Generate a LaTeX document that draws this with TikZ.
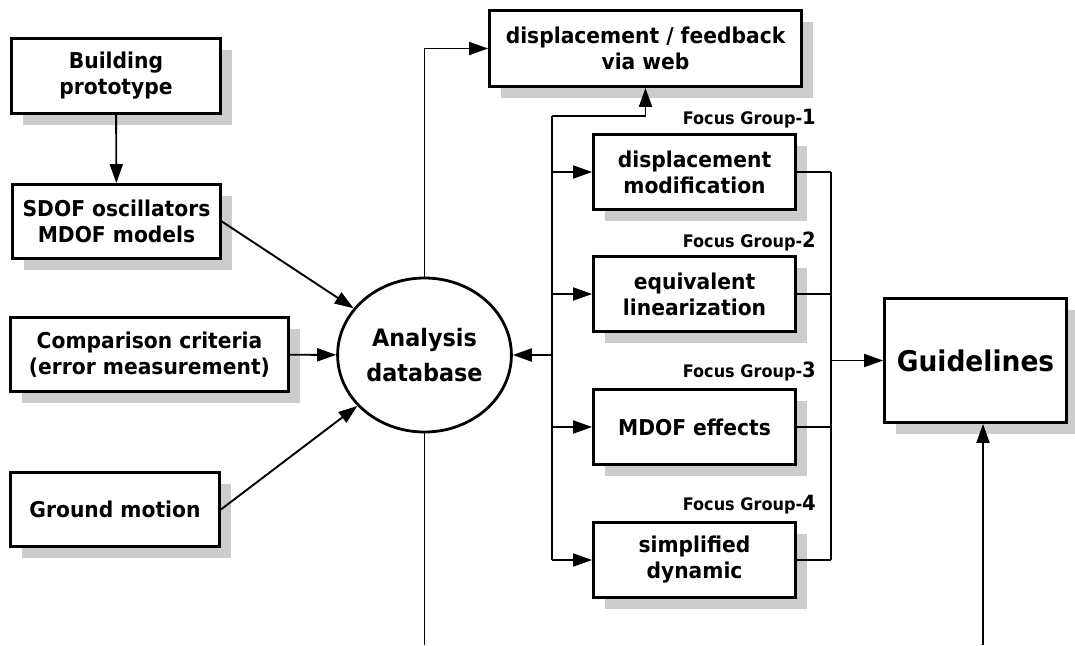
\documentclass[tikz,border=0pt]{standalone}
\usepackage{fontspec}
\setmainfont{DejaVu Sans}
\newfontfamily\flowfont{DejaVu Sans}[FakeStretch=0.93]
\usetikzlibrary{arrows.meta,shadows,shapes.geometric}
\tikzset{
  flow chart/.style={
    x=1pt,
    y=-1pt,
    line join=miter
  },
  flow box/.style={
    draw,
    line width=2.8pt,
    fill=white,
    align=center,
    inner sep=2pt,
    font=\flowfont\bfseries\fontsize{21.8}{26}\selectfont,
    drop shadow={shadow xshift=11pt,shadow yshift=-11pt,fill=black!20,opacity=1}
  },
  flow hub/.style={
    draw,
    ellipse,
    line width=2.8pt,
    minimum width=163pt,
    minimum height=154pt,
    align=center,
    font=\flowfont\bfseries\fontsize{24}{35}\selectfont
  },
  flow link/.style={
    line width=1.9pt
  },
  flow arrow/.style={
    flow link,
    -{Triangle[length=19pt,width=13pt]}
  },
  group label/.style={
    anchor=east,
    inner sep=0pt,
    font=\flowfont\bfseries\fontsize{17.3}{17.3}\selectfont
  }
}

\begin{document}
\begin{tikzpicture}[flow chart]
  \useasboundingbox (0,0) rectangle (1075,645);

  \node[flow box,minimum width=209pt,minimum height=75pt] (proto) at (116,76) {Building\\prototype};
  \node[flow box,minimum width=208pt,minimum height=74pt] (sdof) at (116.5,221.5) {SDOF oscillators\\MDOF models};
  \node[flow box,minimum width=278pt,minimum height=74pt] (crit) at (149.5,354.5) {Comparison criteria\\(error measurement)};
  \node[flow box,minimum width=209pt,minimum height=74pt] (ground) at (115,509.5) {Ground motion};

  \node[flow hub] (db) at (424.5,355) {Analysis\\database};

  \node[flow box,minimum width=312pt,minimum height=76pt] (web) at (645.5,48.5) {displacement / feedback\\via web};
  \node[flow box,minimum width=202pt,minimum height=75pt] (dispmod) at (694.5,172) {displacement\\modification};
  \node[flow box,minimum width=202pt,minimum height=75pt] (eqlin) at (694.5,294) {equivalent\\linearization};
  \node[flow box,minimum width=202pt,minimum height=75pt] (mdof) at (694.5,427) {MDOF effects};
  \node[flow box,minimum width=202pt,minimum height=75pt] (simdyn) at (694.5,560) {simplified\\dynamic};
  \node[flow box,minimum width=182pt,minimum height=124pt,font=\flowfont\bfseries\fontsize{28.5}{32}\selectfont] (guide) at (975.5,360.5) {Guidelines};

  \foreach \k/\y in {1/119,2/242,3/372,4/505}
    \node[group label] (fg\k) at (816,\y) {Focus Group-{\fontsize{21}{21}\selectfont\k}};

  \coordinate (bustop) at (552,116);
  \coordinate (busbot) at (552,560);
  \coordinate (colltop) at (831,172);
  \coordinate (collbot) at (831,560);
  \coordinate (dbdown) at (424.5,645);
  \coordinate (guideup) at (983,645);

  \draw[flow arrow] (proto) -- (sdof);
  \draw[flow arrow] (sdof.east) -- (db);
  \draw[flow arrow] (crit) -- (db);
  \draw[flow arrow] (ground.east) -- (db);
  \draw[flow arrow] (db.north) |- (web.west);
  \draw[flow link] (db.south) -- (dbdown);

  \draw[flow link] (bustop) -- (busbot);
  \draw[flow arrow] (bustop) -| (web.south);
  \draw[flow arrow] (bustop |- db.east) -- (db.east);
  \foreach \b in {dispmod,eqlin,mdof,simdyn}
    \draw[flow arrow] (bustop |- \b.west) -- (\b.west);

  \draw[flow link] (colltop) -- (collbot);
  \foreach \b in {dispmod,eqlin,mdof,simdyn}
    \draw[flow link] (\b.east) -- (colltop |- \b.east);
  \draw[flow arrow] (colltop |- guide.west) -- (guide.west);
  \draw[flow arrow] (guideup) -- (guideup |- guide.south);

\end{tikzpicture}
\end{document}
